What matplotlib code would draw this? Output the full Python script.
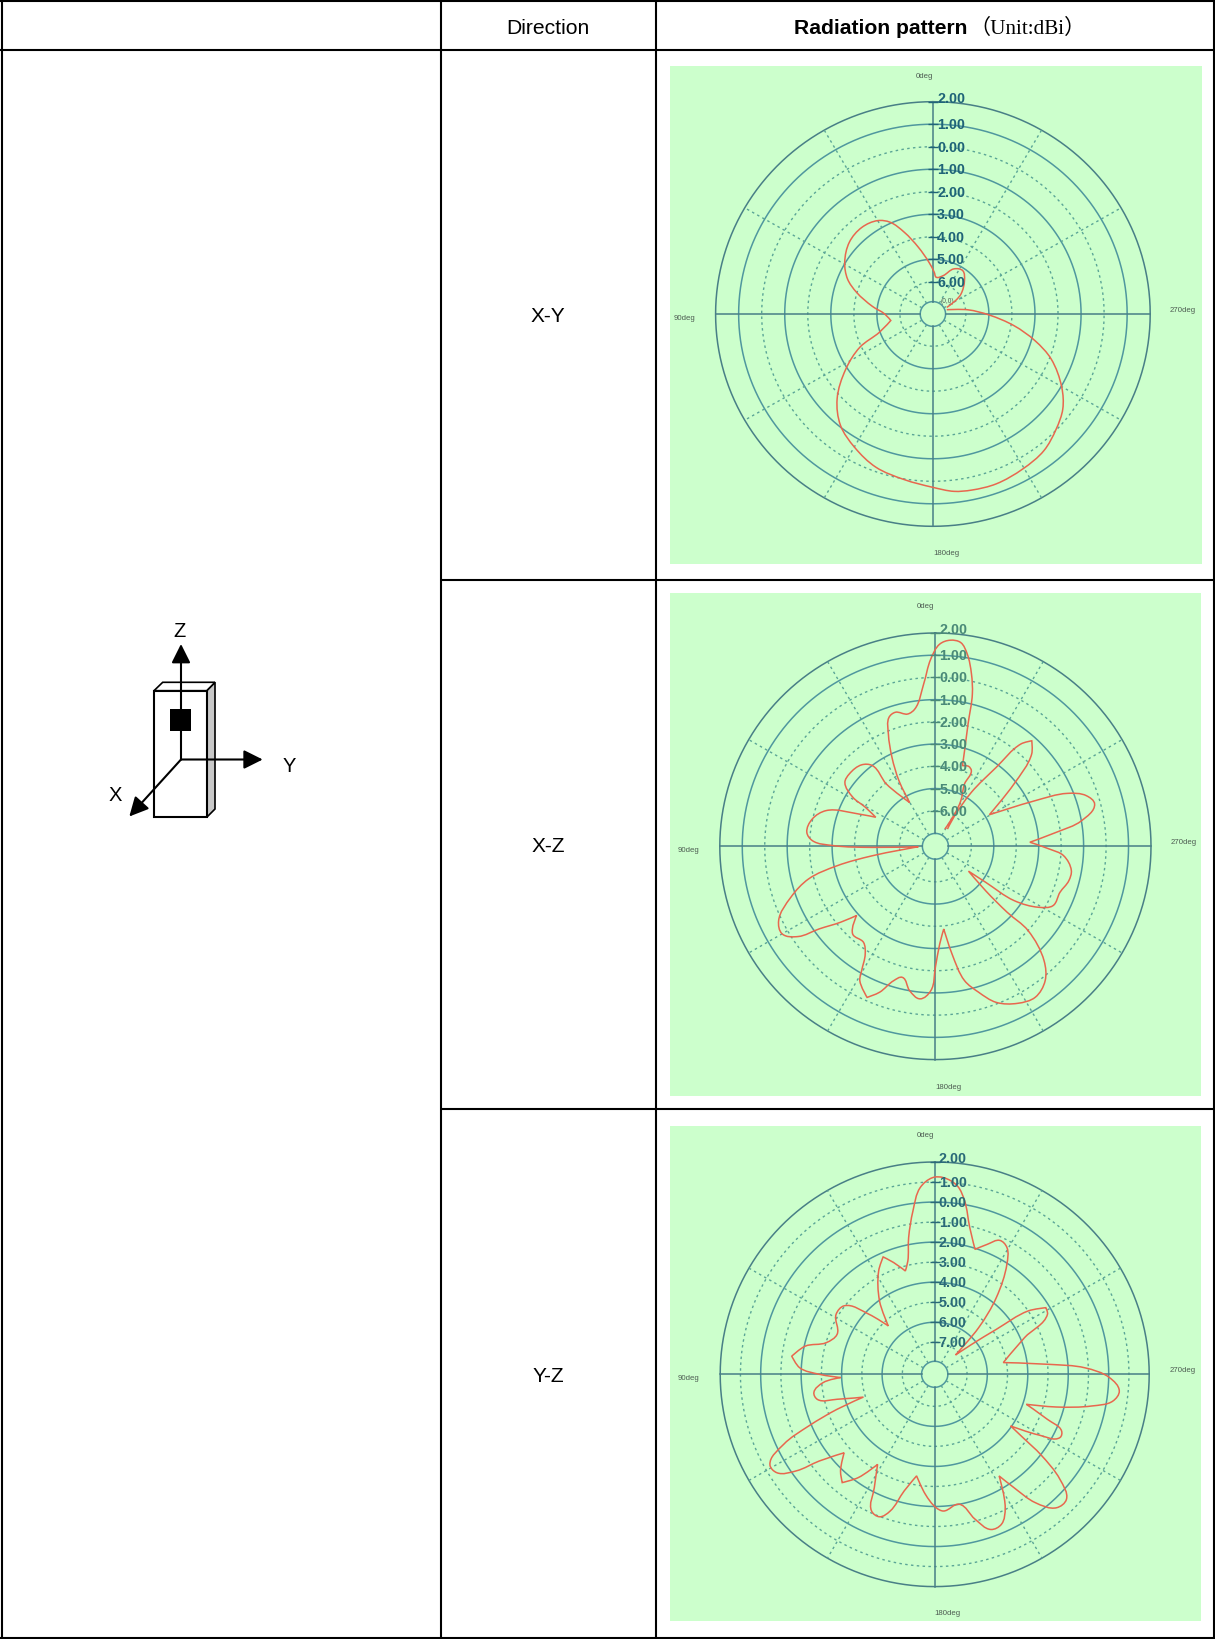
import numpy as np
import matplotlib
matplotlib.use('Agg')
import matplotlib.pyplot as plt
from matplotlib.patches import Rectangle, Polygon, PathPatch
from matplotlib.path import Path
from matplotlib.transforms import IdentityTransform

W, H = 1215, 1640

# gain curves, angle in degrees (counter clockwise from top) and gain in dBi
xy_angle = [296, 301.2, 306.1, 317.3, 326.1, 335.6, 345.4, 355, 358.1, 4.2, 12, 18.9, 24.5, 30, 38.7, 48.6,
            59.1, 67.2, 73.8, 82.6, 90, 99, 109.3, 115, 122.9, 132.2, 141, 150.2, 160, 170.4, 180, 186.6,
            192.1, 200, 209.6, 218.4, 226.3, 233.2, 239.8, 248.7, 255, 261.6, 269, 277, 287.5]
xy_gain = [-6.76, -6.28, -5.92, -5.41, -5.11, -5.23, -5.67, -5.79, -5.58, -5.13, -4.40, -3.59, -2.95, -2.64, -2.50, -2.60,
           -2.97, -3.41, -3.98, -4.78, -5.34, -5.58, -4.97, -3.93, -2.93, -1.82, -1.06, -0.60, -0.19, 0.03, 0.27, 0.50,
           0.57, 0.60, 0.48, 0.32, -0.03, -0.39, -0.96, -1.92, -2.84, -3.87, -4.99, -5.90, -6.80]

xz_angle = [331.5, 329.4, 331.1, 335.2, 334.8, 337.7, 341.6, 343.2, 345.2, 346.5, 348.3, 350.7, 353, 355.9, 358.8,
            1.4, 4.1, 8.4, 11.7, 16.5, 19.6, 22.5, 25.8, 28.8, 30.2, 37.9, 37.7, 41.8, 49.6, 54.5, 59, 60.6, 63.8,
            67, 71.7, 77.4, 83.7, 87.3, 89.6, 91, 91.5, 98.6, 101.3, 104.6, 109.6, 115.6, 120, 123.6, 125.7, 129,
            131.6, 137, 143.5, 147.2, 149.6, 150.9, 155.9, 159.3, 162.9, 166, 170, 174.3, 178.2, 180, 182.5, 185.7,
            188.7, 192.1, 196.3, 201.1, 207.4, 213.2, 218.9, 223.2, 227.4, 227.1, 228.2, 232.8, 234.1, 235.1, 239.2,
            243, 249.5, 255.4, 259.8, 265.8, 268.6, 272.5, 276.7, 280, 285, 288.7, 292.1, 294.8, 300.6, 308.7, 314.1,
            317.9, 320.4, 322.7, 326.6, 328, 325.3]
xz_gain = [-6.72, -6.0, -5.26, -4.51, -3.84, -3.71, -3.78, -3.11, -1.91, -0.55, 0.32, 1.17, 1.64, 1.70, 1.50,
           0.83, -0.28, -1.35, -1.52, -1.31, -1.44, -2.13, -3.16, -4.23, -5.32, -4.05, -3.01, -2.68, -2.57, -2.65, -3.31, -4.02, -4.64,
           -3.87, -2.48, -1.98, -1.84, -2.11, -3.06, -4.80, -6.84, -4.77, -3.14, -1.76, -0.77, 0.14, 0.28, -0.26, -1.23, -2.17,
           -2.91, -2.20, -2.22, -1.83, -1.11, -0.68, -0.15, -0.58, -1.27, -1.52, -1.00, -0.70, -1.10, -2.16, -3.20, -3.86,
           -2.69, -1.42, -0.76, -0.07, 0.36, 0.52, 0.18, -0.53, -1.99, -3.24, -4.60, -5.75, -4.84, -3.33, -2.24,
           -1.72, -1.68, -1.46, -1.45, -1.88, -2.52, -3.39, -2.17, -1.00, -0.26, -0.50, -1.27, -2.70, -4.81, -3.12, -1.63,
           -1.20, -1.62, -3.14, -4.69, -6.06, -6.66]

yz_angle = [313.2, 317, 321.5, 327, 330.6, 334.3, 338.1, 342.3, 346.7, 350.3, 353.2, 357.5, 0.6, 4.4, 7.5, 10.7, 13.2, 15.7,
            20, 23.5, 28.2, 36.7, 43.5, 47.3, 52.6, 58.4, 67.5, 73.6, 77.6, 82.7, 87.2, 90, 92, 94.3, 98.7, 102.2, 104.5,
            107.9, 109.9, 112.5, 115.1, 119, 122.2, 125.2, 127.2, 131.2, 136, 139.8, 143.8, 147.9, 152.2, 155.4, 159,
            162.1, 165.5, 170, 175.6, 180.6, 183.6, 190.6, 195.4, 199.7, 203.8, 207.6, 212.1, 214.7, 217.8, 222.1, 226.2,
            229.7, 232.6, 233.9, 235.5, 239.5, 243, 245.7, 248, 251.7, 254.8, 258.5, 261.4, 264.8, 268.9, 272.5, 275,
            279.8, 292.4, 298.3, 301.2, 304.4, 306.4, 309.3, 313.2]
yz_gain = [-7.19, -5.41, -3.71, -2.05, -1.33, -1.18, -1.60, -2.05, -1.07, 0.18, 0.87, 1.23, 1.22, 0.75, -0.37, -1.66, -2.79, -3.24,
           -2.66, -2.21, -2.74, -4.04, -5.27, -4.18, -2.97, -2.88, -3.38, -3.01, -2.05, -1.48, -1.92, -2.90, -3.95, -3.07, -2.56, -2.67, -3.62,
           -4.90, -3.47, -1.87, -0.36, 0.71, 0.62, -0.24, -1.44, -2.65, -1.90, -1.52, -2.21, -3.29, -2.20, -1.10, -0.98,
           -1.42, -2.59, -3.45, -2.59, -1.94, -1.76, -2.00, -1.10, -0.37, -0.42, -1.08, -2.61, -1.71, -0.49, 0.38, 0.42,
           -0.48, -2.02, -3.10, -4.05, -2.63, -1.65, -1.72, -2.59, -3.83, -2.37, -0.67, 0.31, 0.56, 0.04, -1.17, -2.91,
           -5.16, -3.80, -2.27, -2.18, -3.00, -4.82, -6.25, -7.19]

xy_solid = [2, 1, -1, -3, -5]
xy_dotted = [0, -2, -4, -6]
xy_labels = ['2.00', '1.00', '0.00', '1.00', '2.00', '3.00', '4.00', '5.00', '6.00']
xz_solid = [2, 1, -1, -3, -5]
xz_dotted = [0, -2, -4, -6]
xz_labels = xy_labels
yz_solid = [2, 0, -2, -4, -6]
yz_dotted = [1, -1, -3, -5, -7]
yz_labels = ['2.00', '1.00', '0.00', '1.00', '2.00', '3.00', '4.00', '5.00', '6.00', '7.00']
ticks = [2, 1, 0, -1, -2, -3, -4, -5, -6, -7]

BG = '#ccffcc'
RING = '#4f979e'
OUTER = '#487f86'
DOT = '#5aa596'
CURVE = '#e8674e'
DOTS = (0, (1.8, 2.4))

fig = plt.figure(figsize=(W / 100, H / 100), dpi=100, facecolor='white')

# page layer in pixel coordinates, y going down like the picture
page = fig.add_axes([0, 0, 1, 1])
page.set_xlim(0, W)
page.set_ylim(H, 0)
page.axis('off')


def smooth_path(pts):
    # bezier through the read points, sharp turns stay sharp like the notches in the plot
    codes = [Path.MOVETO]
    verts = [pts[0]]
    tang = np.zeros(pts.shape)
    for i in range(1, len(pts) - 1):
        a = pts[i] - pts[i - 1]
        b = pts[i + 1] - pts[i]
        cosang = a.dot(b) / (np.linalg.norm(a) * np.linalg.norm(b) + 1e-9)
        if cosang > 0.1:
            m = a / (np.linalg.norm(a) + 1e-9) + b / (np.linalg.norm(b) + 1e-9)
            tang[i] = m / (np.linalg.norm(m) + 1e-9)
    for i in range(len(pts) - 1):
        d = np.linalg.norm(pts[i + 1] - pts[i]) / 3
        verts += [pts[i] + tang[i] * d, pts[i + 1] - tang[i + 1] * d, pts[i + 1]]
        codes += [Path.CURVE4] * 3
    return Path(verts, codes)


def polar_panel(box, centre, radius, r_centre, r_hole, angle, gain, solid, dotted, labels, label_color, deg_pos):
    page.add_patch(Rectangle((box[0], box[1]), box[2] - box[0], box[3] - box[1], fc=BG, ec='none'))
    cx, cy = centre
    rx, ry = radius
    ax = fig.add_axes([(cx - rx) / W, 1 - (cy + ry) / H, 2 * rx / W, 2 * ry / H], projection='polar')
    ax.set_aspect('auto')
    ax.set_theta_zero_location('N')
    ax.set_theta_direction(1)
    ax.set_ylim(r_centre, 2)
    ax.axis('off')
    ax.patch.set_alpha(0)

    around = np.radians(np.arange(0, 361, 2))
    for r in solid:
        col = OUTER if r == 2 else RING
        ax.plot(around, np.full(around.shape, r), color=col, lw=1.1, clip_on=False)
    for r in dotted:
        ax.plot(around, np.full(around.shape, r), color=DOT, lw=1.0, ls=DOTS, clip_on=False)
    ax.plot(around, np.full(around.shape, r_hole), color=RING, lw=1.1, clip_on=False)

    for a in range(0, 360, 30):
        t = np.radians(a)
        if a % 90 == 0:
            ax.plot([t, t], [r_hole, 2], color=OUTER, lw=1.1, clip_on=False)
        else:
            ax.plot([t, t], [r_hole, 2], color=DOT, lw=1.0, ls=DOTS, clip_on=False)

    pts = ax.transData.transform(np.column_stack([np.radians(angle), gain]))
    ax.add_patch(PathPatch(smooth_path(pts), fc='none', ec=CURVE, lw=1.1, transform=IdentityTransform(),
                           clip_on=False, zorder=5))

    for i, lab in enumerate(labels):
        lift = 3 if i == 0 else 0
        ax.plot([0], [ticks[i]], marker='_', ms=7, mew=1.0, color=label_color, clip_on=False, zorder=6)
        ax.annotate(lab, xy=(0, ticks[i]), xytext=(3, lift), textcoords='offset points', va='center', ha='left',
                    fontsize=10.3, fontweight='bold', family='Liberation Sans', color=label_color, zorder=7,
                    annotation_clip=False)

    for txt, (x, y) in zip(['0deg', '90deg', '270deg', '180deg'], deg_pos):
        page.text(x, y, txt, fontsize=5.6, family='Liberation Sans', color='#4d5c52', ha='center', va='center')
    return ax


polar_panel((670, 67, 1202, 565), (932.9, 315), (217.3, 212.3), -7.43, -6.88, xy_angle, xy_gain,
            xy_solid, xy_dotted, xy_labels, '#1f6478', [(924, 76), (685, 319), (1183, 311), (946, 554)])
polar_panel((670, 594, 1201, 1097), (935.4, 847.3), (215.6, 213.3), -7.6, -7.02, xz_angle, xz_gain,
            xz_solid, xz_dotted, xz_labels, '#4a8a78', [(925.5, 607), (688, 851), (1184, 843), (948.5, 1088)])
polar_panel((670, 1127, 1201, 1622), (934.7, 1375.3), (214.5, 212.3), -8.6, -7.95, yz_angle, yz_gain,
            yz_solid, yz_dotted, yz_labels, '#2a6a78', [(925.5, 1136), (688, 1379), (1183, 1371), (947, 1614)])
page.text(947.5, 301.5, '(0,0)', fontsize=4.8, family='Liberation Sans', color='#4d5c52', ha='center', va='center',
          zorder=8)

# table rules
for y in [1.5, 51, 580.5, 1110, 1639]:
    x0 = 441 if y in (580.5, 1110) else 0
    page.plot([x0, W], [y, y], color='black', lw=1.5, solid_capstyle='butt', zorder=10)
for x in [1.5, 441, 656, 1214]:
    page.plot([x, x], [0, H], color='black', lw=1.5, solid_capstyle='butt', zorder=10)

page.text(548, 29, 'Direction', fontsize=15.2, family='Liberation Sans', ha='center', va='center')
page.text(794, 29, 'Radiation pattern', fontsize=15.2, family='Liberation Sans', fontweight='bold', ha='left', va='center')
page.text(969, 29, '（Unit:dBi）', fontsize=15.2, family=['Liberation Serif', 'Noto Sans CJK SC'], ha='left', va='center')
page.text(548, 317, 'X-Y', fontsize=15, family='Liberation Sans', ha='center', va='center')
page.text(548, 847, 'X-Z', fontsize=15, family='Liberation Sans', ha='center', va='center')
page.text(548, 1377, 'Y-Z', fontsize=15, family='Liberation Sans', ha='center', va='center')

# antenna sketch with the axes
page.add_patch(Polygon([(206.7, 691.7), (215, 683.3), (215, 810), (206.7, 818.3)], fc='#c8c8c8', ec='black', lw=1.2))
page.add_patch(Polygon([(154, 691.7), (162.7, 683.3), (215, 683.3), (206.7, 691.7)], fc='white', ec='black', lw=1.2))
page.add_patch(Rectangle((154, 691.7), 52.7, 126.6, fc='white', ec='black', lw=1.5))
page.add_patch(Rectangle((170, 710), 21, 21.7, fc='black', ec='none', zorder=4))
o = (181, 760.5)
for tip in [(181, 645), (262.7, 760.5), (129.3, 817.5)]:
    page.annotate('', xy=tip, xytext=o, zorder=3,
                  arrowprops=dict(arrowstyle='-|>,head_length=0.64,head_width=0.32', color='black', lw=1.5,
                                  shrinkA=0, shrinkB=0, mutation_scale=18))
page.text(179.5, 632, 'Z', fontsize=14.5, family='Liberation Sans', ha='center', va='center')
page.text(289, 767, 'Y', fontsize=14.5, family='Liberation Sans', ha='center', va='center')
page.text(115, 795.5, 'X', fontsize=14.5, family='Liberation Sans', ha='center', va='center')

fig.savefig('out.png', dpi=100)
